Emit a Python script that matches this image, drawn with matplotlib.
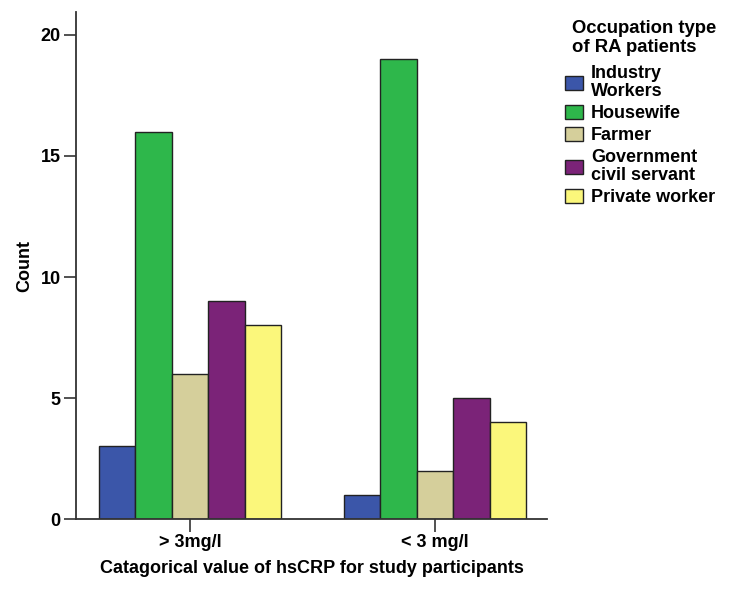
import matplotlib.pyplot as plt
import numpy as np

plt.rcParams['font.family'] = ['Liberation Sans', 'DejaVu Sans']

# Dados
grupos = ['> 3mg/l', '< 3 mg/l']
ocupacoes = ['Industry\nWorkers', 'Housewife', 'Farmer',
             'Government\ncivil servant', 'Private worker']
industria = [3, 1]
dona_casa = [16, 19]
agricultor = [6, 2]
governo = [9, 5]
privado = [8, 4]

cores = ['#3b56a9', '#2eb74b', '#d5cf9b', '#7b2378', '#fbf77b']

fig = plt.figure(figsize=(7.35, 5.98), dpi=100)
ax = fig.add_axes([0.1034, 0.132, 0.6408, 0.848])

x = np.arange(len(grupos))
w = 0.149
series = [industria, dona_casa, agricultor, governo, privado]
for i, (vals, cor, nome) in enumerate(zip(series, cores, ocupacoes)):
    ax.bar(x + (i - 2) * w, vals, width=w, color=cor, edgecolor='#222222',
           linewidth=1.0, label=nome, zorder=2)

ax.set_xlim(-0.465, 1.457)
ax.set_ylim(0, 20.95)
ax.set_yticks([0, 5, 10, 15, 20])
ax.set_xticks(x)
ax.set_xticklabels(grupos)
ax.tick_params(axis='both', direction='out', length=9, width=1.2,
               labelsize=13, color='#333333', pad=2)
for lbl in ax.get_xticklabels() + ax.get_yticklabels():
    lbl.set_fontweight('bold')
ax.spines['top'].set_visible(False)
ax.spines['right'].set_visible(False)
for s in ['left', 'bottom']:
    ax.spines[s].set_linewidth(1.3)
    ax.spines[s].set_color('#333333')

ax.set_ylabel('Count', fontsize=13, fontweight='bold', labelpad=5)
ax.set_xlabel('Catagorical value of hsCRP for study participants',
              fontsize=13, fontweight='bold', labelpad=6)

# Título da legenda separado, para controlar o espaçamento
fig.text(0.778, 0.967, 'Occupation type\nof RA patients', fontsize=13.3,
         fontweight='bold', va='top', ha='left', linespacing=1.15)

leg = fig.legend(loc='upper left', bbox_to_anchor=(0.7687, 0.891),
                 prop={'size': 13, 'weight': 'bold'},
                 frameon=False, handlelength=1.0, handleheight=0.85,
                 handletextpad=0.45, labelspacing=0.25, borderpad=0,
                 borderaxespad=0)
for t in leg.get_texts():
    t.set_linespacing(1.1)

plt.savefig('out.png', dpi=100)
